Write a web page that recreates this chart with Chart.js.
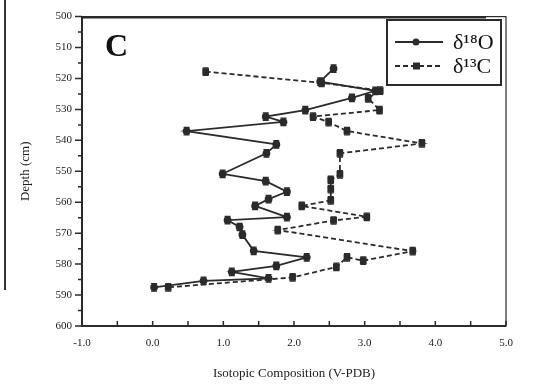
<!DOCTYPE html>
<html>
<head>
<meta charset="utf-8">
<script src="https://cdn.jsdelivr.net/npm/chart.js"></script>
<style>
  html, body { margin: 0; padding: 0; background: #fff; }
  #wrap { position: relative; width: 534px; height: 386px; }
  #edge { position: absolute; left: 4px; top: 0; width: 1.5px; height: 290px; background: #333; }
</style>
</head>
<body>
<div id="wrap">
  <canvas id="chart" width="534" height="386"></canvas>
  <div id="edge"></div>
</div>
<script>
// d18O (solid line, circles): depth in cm, value in per mil
const depthO = [516.8, 521.0, 524.0, 526.3, 530.2, 532.3, 534.0, 537.0, 541.3, 544.2, 550.8, 553.2,
  556.6, 559.0, 561.2, 564.8, 565.8, 568.0, 570.5, 575.7, 577.8, 580.6, 582.5, 584.6, 585.4, 587.5];
const valueO = [2.56, 2.37, 3.15, 2.82, 2.16, 1.60, 1.85, 0.48, 1.75, 1.61, 0.99, 1.60,
  1.90, 1.64, 1.45, 1.90, 1.06, 1.23, 1.27, 1.43, 2.18, 1.75, 1.12, 1.64, 0.72, 0.02];

// d13C (dashed line, squares)
const depthC = [517.8, 521.4, 523.9, 526.4, 530.2, 532.3, 534.1, 537.0, 541.0, 544.2, 551.0, 552.8,
  555.8, 559.4, 561.2, 564.7, 565.9, 569.0, 575.8, 578.9, 577.8, 580.9, 584.3, 587.5];
const valueC = [0.75, 2.39, 3.22, 3.05, 3.21, 2.27, 2.49, 2.75, 3.81, 2.65, 2.65, 2.52,
  2.52, 2.52, 2.11, 3.03, 2.56, 1.77, 3.68, 2.98, 2.75, 2.60, 1.98, 0.22];

const depthError = 1.2;   // +/- cm, drawn as vertical bars
const seriesNames = ['δ¹⁸O', 'δ¹³C'];
const xTicks = [-1, 0, 1, 2, 3, 4, 5];
const yTicks = [500, 510, 520, 530, 540, 550, 560, 570, 580, 590, 600];

const INK = '#2b2b2b';
const SERIF = '"Liberation Serif", "DejaVu Serif", serif';

function toPoints(depths, values) {
  return depths.map((d, i) => ({ x: values[i], y: d }));
}

// error bars, frame, tick marks, legend box and panel letter
const decorations = {
  id: 'decorations',
  afterDatasetsDraw(chart) {
    const ctx = chart.ctx;
    const xs = chart.scales.x, ys = chart.scales.y;
    ctx.save();
    ctx.strokeStyle = INK;
    ctx.lineWidth = 1.3;
    ctx.setLineDash([]);
    chart.data.datasets.forEach(ds => {
      ds.data.forEach(p => {
        const px = xs.getPixelForValue(p.x);
        const y1 = ys.getPixelForValue(p.y - depthError);
        const y2 = ys.getPixelForValue(p.y + depthError);
        ctx.beginPath();
        ctx.moveTo(px, y1); ctx.lineTo(px, y2);
        ctx.moveTo(px - 3, y1); ctx.lineTo(px + 3, y1);
        ctx.moveTo(px - 3, y2); ctx.lineTo(px + 3, y2);
        ctx.stroke();
      });
    });
    ctx.restore();
  },
  afterDraw(chart) {
    const ctx = chart.ctx;
    const a = chart.chartArea;
    const xs = chart.scales.x, ys = chart.scales.y;
    ctx.save();
    ctx.strokeStyle = INK;
    ctx.setLineDash([]);

    // frame
    ctx.lineWidth = 1.2;
    ctx.strokeRect(a.left, a.top, a.right - a.left, a.bottom - a.top);
    ctx.lineWidth = 2;
    ctx.beginPath();
    ctx.moveTo(a.left, a.top); ctx.lineTo(a.left, a.bottom); ctx.lineTo(a.right, a.bottom);
    ctx.moveTo(a.left, a.top + 1); ctx.lineTo(a.right - 20, a.top + 1);
    ctx.stroke();

    // x ticks point up into the plot, y ticks point out to the left
    ctx.lineWidth = 1.5;
    ctx.beginPath();
    for (let v = xs.min; v <= xs.max + 1e-6; v += 0.5) {
      const px = xs.getPixelForValue(v);
      ctx.moveTo(px, a.bottom); ctx.lineTo(px, a.bottom - 5);
    }
    for (let v = ys.min; v <= ys.max + 1e-6; v += 5) {
      const py = ys.getPixelForValue(v);
      const len = (v % 10 === 0) ? 7 : 4;
      ctx.moveTo(a.left, py); ctx.lineTo(a.left - len, py);
    }
    ctx.stroke();

    // panel letter
    ctx.fillStyle = '#111';
    ctx.font = 'bold 32px ' + SERIF;
    ctx.textBaseline = 'alphabetic';
    ctx.fillText('C', a.left + 23, a.top + 39);

    // legend
    const bx = 387, by = 20, bw = 114, bh = 65;
    ctx.fillStyle = '#fff';
    ctx.fillRect(bx, by, bw, bh);
    ctx.lineWidth = 2;
    ctx.strokeRect(bx, by, bw, bh);
    const rows = [by + 22, by + 46];
    chart.data.datasets.forEach((ds, i) => {
      const ly = rows[i];
      ctx.lineWidth = 1.8;
      ctx.setLineDash(ds.borderDash || []);
      ctx.beginPath();
      ctx.moveTo(bx + 8, ly); ctx.lineTo(bx + 56, ly);
      ctx.stroke();
      ctx.setLineDash([]);
      ctx.fillStyle = INK;
      if (ds.pointStyle === 'rect') {
        ctx.fillRect(bx + 26, ly - 3.5, 7, 7);
      } else {
        ctx.beginPath();
        ctx.arc(bx + 29, ly, 3.5, 0, Math.PI * 2);
        ctx.fill();
      }
      ctx.fillStyle = '#111';
      ctx.font = '22px ' + SERIF;
      ctx.textBaseline = 'middle';
      ctx.fillText(ds.label, bx + 66, ly + 1);
    });
    ctx.restore();
  }
};

new Chart(document.getElementById('chart'), {
  type: 'scatter',
  data: {
    datasets: [
      {
        label: seriesNames[0],
        data: toPoints(depthO, valueO),
        showLine: true,
        borderColor: INK,
        backgroundColor: INK,
        borderWidth: 1.8,
        pointStyle: 'circle',
        pointRadius: 3,
        tension: 0
      },
      {
        label: seriesNames[1],
        data: toPoints(depthC, valueC),
        showLine: true,
        borderColor: INK,
        backgroundColor: INK,
        borderWidth: 1.8,
        borderDash: [5, 3],
        pointStyle: 'rect',
        pointRadius: 3.5,
        tension: 0
      }
    ]
  },
  options: {
    responsive: false,
    animation: false,
    layout: { padding: { left: 0, top: 11, right: 28, bottom: 0 } },
    plugins: {
      legend: { display: false },
      tooltip: { enabled: false }
    },
    scales: {
      x: {
        type: 'linear',
        min: xTicks[0],
        max: xTicks[xTicks.length - 1],
        afterBuildTicks: s => { s.ticks = xTicks.map(v => ({ value: v })); },
        afterFit: s => { s.height = 60; },
        grid: { display: true, drawOnChartArea: false, drawTicks: false, color: 'rgba(0,0,0,0)' },
        border: { display: false },
        ticks: {
          padding: 11,
          color: '#222',
          font: { family: SERIF, size: 11 },
          callback: v => v.toFixed(1)
        },
        title: {
          display: true,
          text: 'Isotopic Composition (V-PDB)',
          color: '#222',
          font: { family: SERIF, size: 13 },
          padding: { top: 0, bottom: 5 }
        }
      },
      y: {
        type: 'linear',
        reverse: true,
        min: yTicks[0],
        max: yTicks[yTicks.length - 1],
        afterBuildTicks: s => { s.ticks = yTicks.map(v => ({ value: v })); },
        afterFit: s => { s.width = 82; },
        grid: { display: true, drawOnChartArea: false, drawTicks: false, color: 'rgba(0,0,0,0)' },
        border: { display: false },
        ticks: {
          padding: 10,
          color: '#222',
          font: { family: SERIF, size: 11 },
          callback: v => String(v)
        },
        title: {
          display: true,
          text: 'Depth (cm)',
          color: '#222',
          font: { family: SERIF, size: 13 },
          padding: { top: 18, bottom: 0 }
        }
      }
    }
  },
  plugins: [decorations]
});
</script>
</body>
</html>
